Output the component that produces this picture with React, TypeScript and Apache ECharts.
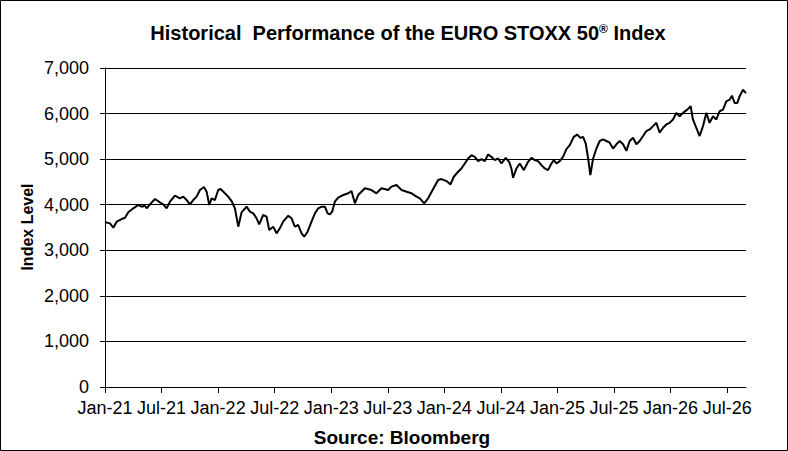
import React, { useEffect, useRef } from "react";
import * as echarts from "echarts";

// Tick labels of the x axis (every 6 months, starting Jan-21 = month 0)
const xTickLabels = [
  "Jan-21", "Jul-21", "Jan-22", "Jul-22", "Jan-23", "Jul-23",
  "Jan-24", "Jul-24", "Jan-25", "Jul-25", "Jan-26", "Jul-26",
];
const xTickMonths = [0, 6, 12, 18, 24, 30, 36, 42, 48, 54, 60, 66];
const yTicks = [0, 1000, 2000, 3000, 4000, 5000, 6000, 7000];

// Months since Jan 2021
const months = [
  0.0, 0.11, 0.53, 0.88, 1.24, 1.77, 2.12, 2.47, 3.0, 3.53, 3.89, 4.24, 4.42, 4.77, 5.3, 5.83,
  6.18, 6.54, 6.89, 7.42, 7.95, 8.3, 8.66, 9.01, 9.36, 9.72, 10.07, 10.5, 10.78, 11.06, 11.31,
  11.66, 12.01, 12.26, 12.72, 13.07, 13.43, 13.78, 14.14, 14.49, 15.02, 15.37, 15.73, 16.08,
  16.36, 16.78, 17.14, 17.42, 17.85, 18.2, 18.55, 18.9, 19.44, 19.79, 20.14, 20.5, 20.85,
  21.13, 21.49, 21.91, 22.27, 22.62, 22.97, 23.33, 23.61, 23.86, 24.1, 24.38, 24.74, 25.27,
  25.8, 26.15, 26.51, 26.86, 27.57, 28.27, 28.8, 29.33, 30.04, 30.39, 30.92, 31.46, 31.99,
  32.52, 33.05, 33.4, 33.86, 34.28, 34.81, 35.34, 35.69, 36.23, 36.65, 37.0, 37.46, 37.81,
  38.17, 38.52, 38.88, 39.23, 39.58, 39.94, 40.29, 40.64, 40.99, 41.35, 41.7, 42.06, 42.51,
  42.87, 43.11, 43.29, 43.65, 44.0, 44.43, 44.88, 45.24, 45.59, 45.94, 46.3, 46.65, 47.0,
  47.36, 47.61, 47.89, 48.24, 48.59, 48.95, 49.3, 49.73, 50.08, 50.43, 50.72, 51.0, 51.25,
  51.49, 51.78, 52.13, 52.48, 52.83, 53.19, 53.54, 53.89, 54.25, 54.6, 54.96, 55.31, 55.66,
  56.02, 56.37, 56.72, 57.08, 57.43, 57.78, 58.14, 58.49, 58.84, 59.2, 59.55, 59.9, 60.26,
  60.61, 60.96, 61.32, 61.77, 62.13, 62.37, 62.73, 63.08, 63.44, 63.79, 64.14, 64.5, 64.85,
  65.2, 65.56, 65.91, 66.26, 66.51, 66.79, 67.08, 67.32, 67.68, 68.0,
];

// EURO STOXX 50 index level at those months
const values = [
  3600, 3613, 3590, 3495, 3627, 3686, 3715, 3833, 3921, 3993, 3957, 3979, 3921, 4008, 4125, 4052,
  4008, 3921, 4067, 4198, 4140, 4177, 4103, 4008, 4103, 4177, 4322, 4388, 4286, 3993, 4140,
  4103, 4322, 4344, 4250, 4177, 4081, 3921, 3518, 3833, 3957, 3848, 3811, 3701,
  3570, 3774, 3738, 3445, 3518, 3372, 3482, 3628, 3759, 3701, 3518, 3555, 3372,
  3298, 3408, 3628, 3811, 3921, 3957, 3957, 3811, 3789, 3848, 4067, 4155, 4213,
  4250, 4301, 4030, 4213, 4360, 4322, 4250, 4360, 4322, 4396, 4432, 4322, 4286,
  4250, 4177, 4140, 4030, 4140, 4344, 4541, 4563, 4519, 4446, 4614, 4723, 4796,
  4905, 5015, 5087, 5051, 4956, 5000, 4956, 5102, 5051, 4978, 5015, 4905, 5029,
  4942, 4796, 4592, 4796, 4905, 4759, 4942, 5029, 4978, 4956, 4869, 4796, 4759,
  4905, 4978, 4905, 4956, 5051, 5219, 5306, 5488, 5539, 5467, 5488, 5343, 5015,
  4650, 5015, 5233, 5398, 5434, 5398, 5362, 5232, 5326, 5398, 5326, 5181, 5398,
  5471, 5326, 5398, 5507, 5616, 5652, 5725, 5797, 5580, 5688, 5761, 5797, 5870,
  6015, 5942, 6015, 6087, 6160, 5870, 5688, 5507, 5725, 6015, 5797, 5942, 5870,
  6051, 6087, 6268, 6305, 6392, 6232, 6232, 6377, 6522, 6450,
];

const FONT = '"Liberation Sans", Arial, sans-serif';

export default function App() {
  const ref = useRef<HTMLDivElement>(null);

  useEffect(() => {
    if (!ref.current) return;
    const chart = echarts.init(ref.current, null, { renderer: "svg" });
    const data = months.map((m, i) => [m, values[i]]);

    chart.setOption({
      animation: false,
      backgroundColor: "#ffffff",
      textStyle: { fontFamily: FONT, color: "#000" },
      grid: {
        left: 105,
        right: 42,
        top: 68,
        bottom: 64,
        containLabel: false,
        outerBoundsMode: "none",
      },
      xAxis: {
        type: "value",
        min: 0,
        max: 68,
        interval: 6,
        axisLine: { show: true, lineStyle: { color: "#000", width: 1 } },
        axisTick: {
          show: true,
          inside: false,
          length: 6,
          customValues: xTickMonths,
          lineStyle: { color: "#000", width: 1 },
        },
        axisLabel: {
          customValues: xTickMonths,
          showMaxLabel: true,
          showMinLabel: true,
          hideOverlap: false,
          margin: 12,
          color: "#000",
          fontSize: 18,
          fontFamily: FONT,
          formatter: (v: number) => {
            const idx = xTickMonths.indexOf(Math.round(v));
            return idx >= 0 ? xTickLabels[idx] : "";
          },
        },
        splitLine: { show: false },
      },
      yAxis: {
        type: "value",
        min: yTicks[0],
        max: yTicks[yTicks.length - 1],
        interval: 1000,
        axisLine: { show: true, lineStyle: { color: "#000", width: 1 } },
        axisTick: { show: true, inside: false, length: 5, lineStyle: { color: "#000", width: 1 } },
        axisLabel: {
          margin: 16,
          color: "#000",
          fontSize: 18,
          fontFamily: FONT,
          formatter: (v: number) => v.toLocaleString("en-US"),
        },
        splitLine: { show: true, lineStyle: { color: "#000", width: 1, type: "solid" } },
      },
      series: [
        {
          type: "line",
          data,
          showSymbol: false,
          symbol: "none",
          lineStyle: { color: "#000", width: 2 },
          itemStyle: { color: "#000" },
          z: 3,
        },
      ],
      graphic: [
        {
          type: "rect",
          shape: { x: 0.5, y: 0.5, width: 787, height: 450 },
          style: { fill: "none", stroke: "#000", lineWidth: 1 },
          silent: true,
          z: 100,
        },
        {
          type: "text",
          x: 408,
          y: 33,
          style: {
            text: "Historical  Performance of the EURO STOXX 50{sup|®} Index",
            fill: "#000",
            font: `bold 20px ${FONT}`,
            textAlign: "center",
            textVerticalAlign: "middle",
            rich: {
              sup: {
                fontSize: 12,
                fontWeight: "bold",
                fontFamily: FONT,
                verticalAlign: "top",
                padding: [0, 0, 8, 0],
                fill: "#000",
              },
            },
          },
        },
        {
          type: "text",
          x: 27,
          y: 227,
          rotation: Math.PI / 2,
          style: {
            text: "Index Level",
            fill: "#000",
            font: `bold 16px ${FONT}`,
            textAlign: "center",
            textVerticalAlign: "middle",
          },
        },
        {
          type: "text",
          x: 402,
          y: 437,
          style: {
            text: "Source: Bloomberg",
            fill: "#000",
            font: `bold 19px ${FONT}`,
            textAlign: "center",
            textVerticalAlign: "middle",
          },
        },
      ],
    });

    return () => chart.dispose();
  }, []);

  return (
    <div
      ref={ref}
      style={{ position: "fixed", left: 0, top: 0, width: 788, height: 451 }}
    />
  );
}
